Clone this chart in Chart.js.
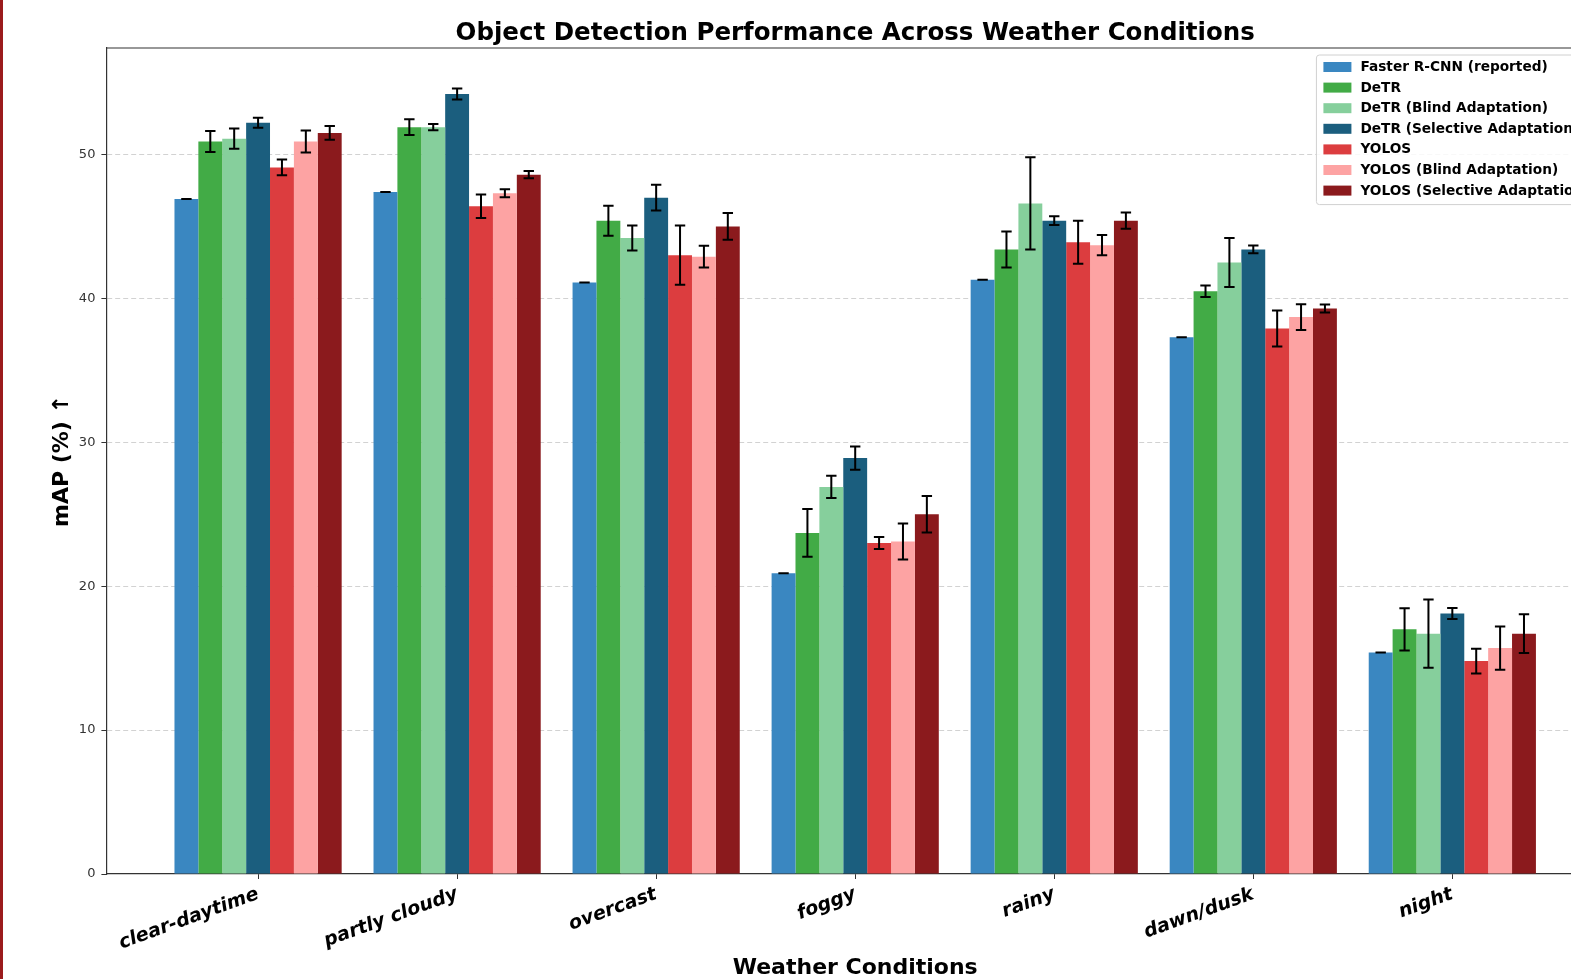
<!DOCTYPE html>
<html>
<head>
<meta charset="utf-8">
<script src="https://cdn.jsdelivr.net/npm/chart.js@4.4.1/dist/chart.umd.min.js"></script>
<style>
  html, body { margin: 0; padding: 0; background: #ffffff; overflow: hidden; }
  #wrap { position: relative; width: 1571px; height: 979px; overflow: hidden; }
  #edge { position: absolute; left: 0; top: 0; width: 3px; height: 979px; background: #9b1b1d; z-index: 2; }
  canvas { position: absolute; left: 0; top: 0; }
</style>
</head>
<body>
<div id="wrap">
  <div id="edge"></div>
  <canvas id="chart" width="1604" height="979"></canvas>
</div>
<script>
// Weather conditions (x categories)
const categories = ['clear-daytime', 'partly cloudy', 'overcast', 'foggy', 'rainy', 'dawn/dusk', 'night'];

// Model variants
const seriesNames = [
  'Faster R-CNN (reported)',
  'DeTR',
  'DeTR (Blind Adaptation)',
  'DeTR (Selective Adaptation)',
  'YOLOS',
  'YOLOS (Blind Adaptation)',
  'YOLOS (Selective Adaptation)'
];

// mAP (%) per weather condition
const fasterRcnn     = [46.9, 47.4, 41.1, 20.9, 41.3, 37.3, 15.4];
const detr           = [50.9, 51.9, 45.4, 23.7, 43.4, 40.5, 17.0];
const detrBlind      = [51.1, 51.9, 44.2, 26.9, 46.6, 42.5, 16.7];
const detrSelective  = [52.2, 54.2, 47.0, 28.9, 45.4, 43.4, 18.1];
const yolos          = [49.1, 46.4, 43.0, 23.0, 43.9, 37.9, 14.8];
const yolosBlind     = [50.9, 47.3, 42.9, 23.1, 43.7, 38.7, 15.7];
const yolosSelective = [51.5, 48.6, 45.0, 25.0, 45.4, 39.3, 16.7];

// Standard deviation (error bar half-length)
const fasterRcnnStd     = [0.0, 0.0, 0.0, 0.0, 0.0, 0.0, 0.0];
const detrStd           = [0.73, 0.55, 1.04, 1.66, 1.25, 0.40, 1.47];
const detrBlindStd      = [0.70, 0.22, 0.87, 0.77, 3.20, 1.70, 2.37];
const detrSelectiveStd  = [0.35, 0.38, 0.90, 0.81, 0.30, 0.27, 0.38];
const yolosStd          = [0.55, 0.82, 2.06, 0.42, 1.50, 1.25, 0.86];
const yolosBlindStd     = [0.76, 0.28, 0.75, 1.25, 0.70, 0.90, 1.50];
const yolosSelectiveStd = [0.48, 0.25, 0.93, 1.27, 0.56, 0.28, 1.35];

const yTicks = [0, 10, 20, 30, 40, 50];

const seriesValues = [fasterRcnn, detr, detrBlind, detrSelective, yolos, yolosBlind, yolosSelective];
const seriesStd = [fasterRcnnStd, detrStd, detrBlindStd, detrSelectiveStd, yolosStd, yolosBlindStd, yolosSelectiveStd];
const seriesColors = ['#3a87c1', '#42ab46', '#86cf9c', '#1b5e7e', '#dc3d3f', '#fda3a3', '#8b1a1d'];

const FONT = "'DejaVu Sans', sans-serif";

const datasets = seriesNames.map((name, k) => ({
  label: name,
  data: seriesValues[k].map((v, i) => ({ x: i, y: v })),
  errors: seriesStd[k],
  backgroundColor: seriesColors[k],
  borderWidth: 0,
  categoryPercentage: 0.84,
  barPercentage: 1.0
}));

// Vertical error bars with caps, centred on each bar
const errorBarPlugin = {
  id: 'errorBars',
  afterDatasetsDraw(chart) {
    const { ctx, scales: { y } } = chart;
    ctx.save();
    ctx.strokeStyle = '#000000';
    ctx.lineWidth = 2;
    chart.data.datasets.forEach((ds, di) => {
      const meta = chart.getDatasetMeta(di);
      meta.data.forEach((bar, i) => {
        const v = ds.data[i].y;
        const e = ds.errors[i];
        const top = y.getPixelForValue(v + e);
        const bot = y.getPixelForValue(v - e);
        const x = bar.x;
        const cap = 5.2;
        ctx.beginPath();
        ctx.moveTo(x, top); ctx.lineTo(x, bot);
        ctx.moveTo(x - cap, top); ctx.lineTo(x + cap, top);
        ctx.moveTo(x - cap, bot); ctx.lineTo(x + cap, bot);
        ctx.stroke();
      });
    });
    ctx.restore();
  }
};

// Top and right spines of the plot frame
const framePlugin = {
  id: 'frame',
  afterDraw(chart) {
    const { ctx, chartArea: a } = chart;
    ctx.save();
    ctx.strokeStyle = '#333333';
    ctx.lineWidth = 1.2;
    ctx.beginPath();
    ctx.moveTo(a.left, a.top); ctx.lineTo(a.right, a.top); ctx.lineTo(a.right, a.bottom);
    ctx.stroke();
    ctx.restore();
  }
};

// Legend boxed in the upper-right corner of the plot
const insideLegendPlugin = {
  id: 'insideLegend',
  afterDraw(chart) {
    const { ctx, chartArea: a } = chart;
    const dsets = chart.data.datasets;
    ctx.save();
    ctx.font = `bold 13.7px ${FONT}`;
    const maxText = Math.max(...dsets.map(d => ctx.measureText(d.label).width));
    const padX = 7, swW = 28, swH = 10, gap = 9, rowH = 20.6, padTop = 12;
    const boxW = padX + swW + gap + maxText + 8;
    const boxH = padTop + rowH * (dsets.length - 1) + 14;
    const left = a.right - 6.5 - boxW;
    const top = a.top + 7;
    ctx.fillStyle = 'rgba(255,255,255,0.85)';
    ctx.strokeStyle = '#d0d0d0';
    ctx.lineWidth = 1;
    ctx.beginPath();
    ctx.roundRect(left, top, boxW, boxH, 3);
    ctx.fill();
    ctx.stroke();
    ctx.textBaseline = 'middle';
    ctx.textAlign = 'left';
    dsets.forEach((d, k) => {
      const cy = top + padTop + rowH * k;
      ctx.fillStyle = d.backgroundColor;
      ctx.fillRect(left + padX, cy - swH / 2, swW, swH);
      ctx.fillStyle = '#000000';
      ctx.fillText(d.label, left + padX + swW + gap, cy + 0.5);
    });
    ctx.restore();
  }
};

new Chart(document.getElementById('chart'), {
  type: 'bar',
  data: { datasets },
  options: {
    responsive: false,
    animation: false,
    devicePixelRatio: 1,
    layout: { padding: { left: 0, right: 0, top: 0, bottom: 0 } },
    plugins: {
      legend: { display: false },
      tooltip: { enabled: false },
      title: {
        display: true,
        fullSize: false,
        text: 'Object Detection Performance Across Weather Conditions',
        color: '#000000',
        font: { family: FONT, size: 24.5, weight: 'bold', lineHeight: 1.0 },
        padding: { top: 21.5, bottom: 2 }
      }
    },
    scales: {
      x: {
        type: 'linear',
        min: -0.762,
        max: 6.762,
        offset: false,
        afterBuildTicks: s => { s.ticks = categories.map((c, i) => ({ value: i })); },
        afterFit: s => { s.height = 105; },
        grid: { display: true, offset: false, drawOnChartArea: false, drawTicks: true, tickLength: 5, tickColor: '#333333', tickWidth: 1 },
        border: { display: true, color: '#333333', width: 1.2 },
        ticks: {
          autoSkip: false,
          minRotation: 20,
          maxRotation: 20,
          padding: 4,
          color: '#000000',
          font: { family: FONT, size: 19, weight: 'bold', style: 'italic' },
          callback: v => categories[v]
        },
        title: {
          display: true,
          text: 'Weather Conditions',
          color: '#000000',
          font: { family: FONT, size: 22, weight: 'bold', lineHeight: 1.0 },
          padding: { top: 0, bottom: 0 }
        }
      },
      y: {
        min: 0,
        max: 57.4,
        afterBuildTicks: s => { s.ticks = yTicks.map(v => ({ value: v })); },
        afterFit: s => { s.width = 106.4; },
        grid: {
          color: c => (c.tick && c.tick.value === 0 ? 'rgba(0,0,0,0)' : '#d2d2d2'),
          lineWidth: 1,
          drawTicks: true,
          tickLength: 5,
          tickColor: '#333333',
          tickBorderDash: [],
          tickWidth: 1
        },
        border: { display: true, color: '#333333', width: 1.2, dash: [5, 3] },
        ticks: {
          includeBounds: false,
          padding: 6,
          color: '#333333',
          font: { family: FONT, size: 13 }
        },
        title: {
          display: true,
          text: 'mAP (%) ↑',
          color: '#000000',
          font: { family: FONT, size: 22, weight: 'bold' },
          padding: { top: 48.8, bottom: 0 }
        }
      }
    }
  },
  plugins: [errorBarPlugin, framePlugin, insideLegendPlugin]
});
</script>
</body>
</html>
